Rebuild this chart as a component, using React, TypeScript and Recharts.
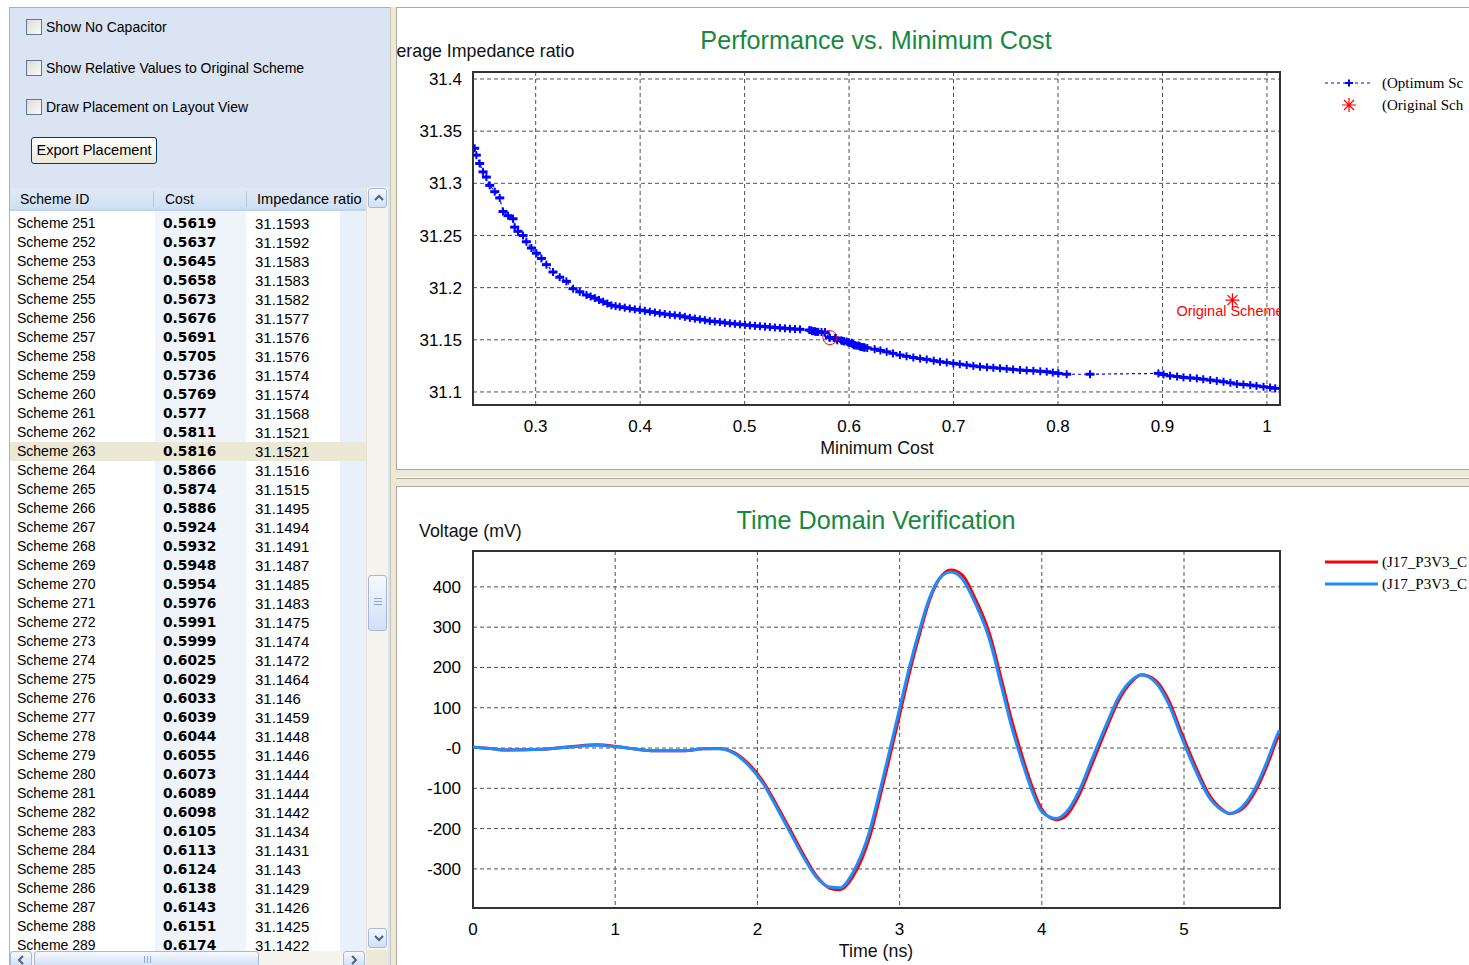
import React from "react";
import {
  ScatterChart, Scatter, LineChart, Line, XAxis, YAxis, CartesianGrid,
  ReferenceArea, ReferenceDot,
} from "recharts";

const SANS = '"Liberation Sans", Arial, sans-serif';
const SERIF = '"Liberation Serif", "Times New Roman", serif';
const GREEN = "#17893d";

// ---- scheme table (schemes 251..289) ----
const schemeNumbers = [
  251, 252, 253, 254, 255, 256, 257, 258, 259, 260, 261, 262, 263, 264, 265, 266, 267, 268, 269, 270,
  271, 272, 273, 274, 275, 276, 277, 278, 279, 280, 281, 282, 283, 284, 285, 286, 287, 288, 289,
];
const schemeCosts = [
  0.5619, 0.5637, 0.5645, 0.5658, 0.5673, 0.5676, 0.5691, 0.5705, 0.5736, 0.5769, 0.577, 0.5811, 0.5816,
  0.5866, 0.5874, 0.5886, 0.5924, 0.5932, 0.5948, 0.5954, 0.5976, 0.5991, 0.5999, 0.6025, 0.6029, 0.6033,
  0.6039, 0.6044, 0.6055, 0.6073, 0.6089, 0.6098, 0.6105, 0.6113, 0.6124, 0.6138, 0.6143, 0.6151, 0.6174,
];
const schemeRatios = [
  31.1593, 31.1592, 31.1583, 31.1583, 31.1582, 31.1577, 31.1576, 31.1576, 31.1574, 31.1574, 31.1568, 31.1521,
  31.1521, 31.1516, 31.1515, 31.1495, 31.1494, 31.1491, 31.1487, 31.1485, 31.1483, 31.1475, 31.1474, 31.1472,
  31.1464, 31.146, 31.1459, 31.1448, 31.1446, 31.1444, 31.1444, 31.1442, 31.1434, 31.1431, 31.143, 31.1429,
  31.1426, 31.1425, 31.1422,
];
const selectedIndex = 12; // Scheme 263

// ---- optimum front outside the table range ----
const lowCosts = [
  0.2416, 0.2432, 0.2464, 0.2496, 0.2528, 0.256, 0.2608, 0.2656, 0.2687, 0.2735, 0.2783, 0.2799, 0.2831,
  0.2879, 0.2911, 0.2959, 0.3007, 0.3055, 0.3103, 0.3166, 0.323, 0.3294, 0.3358, 0.3422, 0.3486, 0.3526,
  0.3566, 0.3606, 0.3646, 0.3686, 0.3725, 0.3765, 0.3805, 0.3853, 0.3901, 0.3949, 0.3997, 0.4045, 0.4093,
  0.4141, 0.4188, 0.4236, 0.4284, 0.4332, 0.438, 0.4428, 0.4476, 0.4524, 0.4572, 0.462, 0.4667, 0.4715,
  0.4763, 0.4811, 0.4859, 0.4907, 0.4955, 0.5003, 0.5051, 0.5099, 0.5147, 0.5195, 0.5242, 0.529, 0.5338,
  0.5386, 0.5434, 0.5482, 0.553,
];
const lowRatios = [
  31.3336, 31.327, 31.319, 31.311, 31.306, 31.298, 31.292, 31.286, 31.273, 31.269, 31.266, 31.258, 31.254,
  31.25, 31.244, 31.238, 31.233, 31.228, 31.222, 31.215, 31.21, 31.206, 31.199, 31.196, 31.193, 31.1915,
  31.19, 31.1882, 31.1865, 31.1848, 31.183, 31.1823, 31.1817, 31.1808, 31.18, 31.1792, 31.1785, 31.1778, 31.177,
  31.1762, 31.1754, 31.1747, 31.174, 31.1735, 31.173, 31.172, 31.171, 31.1703, 31.1696, 31.1688, 31.168, 31.1675,
  31.167, 31.1663, 31.1658, 31.1653, 31.1648, 31.1643, 31.1638, 31.1634, 31.163, 31.1626, 31.1622, 31.1618,
  31.1614, 31.161, 31.1606, 31.1603, 31.16,
];
const highCosts = [
  0.6245, 0.63, 0.636, 0.642, 0.6487, 0.655, 0.6615, 0.668, 0.6743, 0.681, 0.687, 0.6935, 0.6998, 0.706,
  0.7126, 0.719, 0.7253, 0.732, 0.7381, 0.7445, 0.7509, 0.757, 0.7636, 0.77, 0.7764, 0.783, 0.7892, 0.795,
  0.8003, 0.8083, 0.8306, 0.8961, 0.901, 0.9073, 0.914, 0.9201, 0.9265, 0.9329, 0.939, 0.9457, 0.952, 0.9584,
  0.965, 0.9712, 0.9775, 0.984, 0.99, 0.9967, 1.003, 1.0079,
];
const highRatios = [
  31.141, 31.1398, 31.1385, 31.137, 31.1354, 31.1342, 31.133, 31.132, 31.1312, 31.13, 31.129, 31.1282, 31.1274,
  31.1266, 31.1258, 31.125, 31.1242, 31.1237, 31.1232, 31.1227, 31.1222, 31.1216, 31.121, 31.1206, 31.1203,
  31.1198, 31.1194, 31.1186, 31.1178, 31.117, 31.117, 31.1178, 31.1168, 31.1155, 31.1148, 31.114, 31.1135,
  31.113, 31.1122, 31.1114, 31.1106, 31.1098, 31.1088, 31.1076, 31.1071, 31.1066, 31.1058, 31.105, 31.1043,
  31.1035,
];
const originalCost = 0.967;
const originalRatio = 31.188;

const costTicks = [0.3, 0.4, 0.5, 0.6, 0.7, 0.8, 0.9, 1];
const ratioTicks = [31.1, 31.15, 31.2, 31.25, 31.3, 31.35, 31.4];

// ---- time domain waveforms ----
const timeNs = [
  0, 0.12, 0.24, 0.49, 0.7, 0.87, 1.01, 1.15, 1.27, 1.48, 1.62, 1.73, 1.83, 1.94, 2.04, 2.13, 2.22, 2.32,
  2.41, 2.51, 2.58, 2.67, 2.79, 2.86, 2.91, 3.0, 3.07, 3.14, 3.21, 3.28, 3.36, 3.44, 3.53, 3.63, 3.72, 3.79,
  3.86, 3.93, 4.0, 4.1, 4.17, 4.26, 4.35, 4.45, 4.54, 4.63, 4.7, 4.8, 4.89, 4.98, 5.08, 5.17, 5.27, 5.32,
  5.41, 5.5, 5.59, 5.65, 5.67,
];
const voltRed = [
  2, -1, -5, -3, 4, 8, 4, -3, -7, -7, -2, -1, -10, -40, -83, -138, -196, -262, -315, -348, -352, -320, -220,
  -124, -52, 82, 188, 282, 366, 420, 442, 430, 372, 286, 164, 66, -18, -94, -152, -178, -168, -118, -42, 45,
  118, 164, 182, 168, 120, 40, -45, -112, -153, -163, -151, -108, -38, 18, 34,
];
const voltBlue = [
  2, -1, -5, -3, 3, 7, 3, -3, -7, -7, -2, -2, -12, -44, -88, -144, -203, -268, -318, -345, -347, -310, -205,
  -108, -36, 98, 202, 293, 372, 421, 437, 420, 361, 272, 148, 50, -32, -105, -158, -175, -160, -108, -30, 55,
  126, 168, 181, 163, 111, 30, -55, -119, -155, -162, -146, -100, -28, 28, 44,
];
const timeTicks = [0, 1, 2, 3, 4, 5];
const voltTicks = [-300, -200, -100, 0, 100, 200, 300, 400];

const COST_DOMAIN: [number, number] = [0.24, 1.0125];
const RATIO_DOMAIN: [number, number] = [31.0875, 31.4067];
const TIME_DOMAIN: [number, number] = [0, 5.675];
const VOLT_DOMAIN: [number, number] = [-397, 489];

const optimumData = [
  ...lowCosts.map((c, i) => ({ cost: c, ratio: lowRatios[i] })),
  ...schemeCosts.map((c, i) => ({ cost: c, ratio: schemeRatios[i] })),
  ...highCosts.map((c, i) => ({ cost: c, ratio: highRatios[i] })),
];
const originalData = [{ cost: originalCost, ratio: originalRatio }];
const waveData = timeNs.map((t, i) => ({ t, red: voltRed[i], blue: voltBlue[i] }));

const tickStyle = { fill: "#000", fontSize: 17, fontFamily: SANS };

const PlusMark = (p: any) => {
  const { cx, cy } = p;
  if (cx == null || cy == null) return null;
  return (
    <g stroke="#0000ff" fill="none">
      <path d={`M${cx - 4.5},${cy}H${cx + 4.5}`} strokeWidth={3} />
      <path d={`M${cx},${cy - 4}V${cy + 4}`} strokeWidth={2} />
    </g>
  );
};

const StarMark = (p: any) => {
  const { cx, cy } = p;
  if (cx == null || cy == null) return null;
  return (
    <g>
      <path
        d={`M${cx - 7},${cy}H${cx + 7}M${cx},${cy - 7}V${cy + 7}M${cx - 5},${cy - 5}L${cx + 5},${cy + 5}M${cx - 5},${cy + 5}L${cx + 5},${cy - 5}`}
        stroke="#ff0000"
        strokeWidth={1.2}
      />
      <text x={cx - 56} y={cy + 16} fill="#ff0000" fontSize={14.5} fontFamily={SANS}>
        Original Scheme
      </text>
    </g>
  );
};

function Abs({ left, top, children, style }: any) {
  return (
    <div style={{ position: "absolute", left, top, whiteSpace: "nowrap", ...style }}>{children}</div>
  );
}

function CostChart() {
  return (
    <div style={{ position: "relative", width: 1072, height: 461 }}>
      <ScatterChart width={1072} height={461} margin={{ top: 64, right: 189, bottom: 34, left: 16 }}>
        <CartesianGrid stroke="#505050" strokeDasharray="4 3" />
        <XAxis
          type="number" dataKey="cost" domain={COST_DOMAIN} allowDataOverflow ticks={costTicks}
          axisLine={false} tickLine={false} tickMargin={9} height={30} tick={tickStyle}
        />
        <YAxis
          type="number" dataKey="ratio" domain={RATIO_DOMAIN} allowDataOverflow ticks={ratioTicks}
          axisLine={false} tickLine={false} tickMargin={5} width={60} tick={tickStyle}
        />
        <Scatter
          data={optimumData}
          shape={PlusMark}
          line={{ stroke: "#0000ff", strokeWidth: 1.2, strokeDasharray: "3 3" }}
          isAnimationActive={false}
        />
        <Scatter data={originalData} shape={StarMark} isAnimationActive={false} />
        <ReferenceDot
          x={schemeCosts[selectedIndex]} y={schemeRatios[selectedIndex]} r={7}
          fill="none" fillOpacity={0} stroke="#ff0000" strokeWidth={1}
        />
        <ReferenceArea
          x1={COST_DOMAIN[0]} x2={COST_DOMAIN[1]} y1={RATIO_DOMAIN[0]} y2={RATIO_DOMAIN[1]}
          fill="none" fillOpacity={0} stroke="#333" strokeWidth={2}
        />
      </ScatterChart>
      <Abs left={479} top={16} style={{ transform: "translateX(-50%)", fontSize: 25.2, color: GREEN, lineHeight: "32px" }}>
        Performance vs. Minimum Cost
      </Abs>
      <Abs left={-21} top={33} style={{ fontSize: 17.8, color: "#111", lineHeight: "20px" }}>
        Average Impedance ratio
      </Abs>
      <Abs left={480} top={430} style={{ transform: "translateX(-50%)", fontSize: 17.8, color: "#111", lineHeight: "20px" }}>
        Minimum Cost
      </Abs>
      <div style={{ position: "absolute", left: 920, top: 62, width: 200, height: 48 }}>
        <svg width={62} height={48} style={{ position: "absolute", left: 0, top: 0 }}>
          <line x1={8} y1={13} x2={56} y2={13} stroke="#0000ff" strokeWidth={1.2} strokeDasharray="3 3" />
          <path d="M28,13H36M32,9.5V16.5" stroke="#0000ff" strokeWidth={2} />
          <path d="M25,35H39M32,28V42M27,30L37,40M27,40L37,30" stroke="#ff0000" strokeWidth={1.2} />
        </svg>
        <Abs left={65} top={3} style={{ fontFamily: SERIF, fontSize: 15, lineHeight: "20px", color: "#000" }}>(Optimum Sc</Abs>
        <Abs left={65} top={25} style={{ fontFamily: SERIF, fontSize: 15, lineHeight: "20px", color: "#000" }}>(Original Sch</Abs>
      </div>
    </div>
  );
}

function TimeChart() {
  return (
    <div style={{ position: "relative", width: 1072, height: 478 }}>
      <LineChart width={1072} height={478} data={waveData} margin={{ top: 64, right: 189, bottom: 27, left: 16 }}>
        <CartesianGrid stroke="#505050" strokeDasharray="4 3" />
        <XAxis
          type="number" dataKey="t" domain={TIME_DOMAIN} allowDataOverflow ticks={timeTicks}
          axisLine={false} tickLine={false} tickMargin={9} height={30} tick={tickStyle}
        />
        <YAxis
          type="number" domain={VOLT_DOMAIN} allowDataOverflow ticks={voltTicks}
          axisLine={false} tickLine={false} tickMargin={6} width={60} tick={tickStyle}
          tickFormatter={(v: number) => (v === 0 ? "-0" : String(v))}
        />
        <Line dataKey="red" type="monotone" stroke="#ff0000" strokeWidth={3} dot={false} isAnimationActive={false} />
        <Line dataKey="blue" type="monotone" stroke="#1e8cff" strokeWidth={3} dot={false} isAnimationActive={false} />
        <ReferenceArea
          x1={TIME_DOMAIN[0]} x2={TIME_DOMAIN[1]} y1={VOLT_DOMAIN[0]} y2={VOLT_DOMAIN[1]}
          fill="none" fillOpacity={0} stroke="#333" strokeWidth={2}
        />
      </LineChart>
      <Abs left={479} top={17} style={{ transform: "translateX(-50%)", fontSize: 25.2, color: GREEN, lineHeight: "32px" }}>
        Time Domain Verification
      </Abs>
      <Abs left={22} top={34} style={{ fontSize: 17.8, color: "#111", lineHeight: "20px" }}>
        Voltage (mV)
      </Abs>
      <Abs left={479} top={454} style={{ transform: "translateX(-50%)", fontSize: 17.8, color: "#111", lineHeight: "20px" }}>
        Time (ns)
      </Abs>
      <div style={{ position: "absolute", left: 920, top: 62, width: 200, height: 48 }}>
        <svg width={62} height={48} style={{ position: "absolute", left: 0, top: 0 }}>
          <line x1={8} y1={13} x2={61} y2={13} stroke="#ff0000" strokeWidth={3} />
          <line x1={8} y1={35} x2={61} y2={35} stroke="#1e8cff" strokeWidth={3} />
        </svg>
        <Abs left={65} top={3} style={{ fontFamily: SERIF, fontSize: 15, lineHeight: "20px", color: "#000" }}>(J17_P3V3_C</Abs>
        <Abs left={65} top={25} style={{ fontFamily: SERIF, fontSize: 15, lineHeight: "20px", color: "#000" }}>(J17_P3V3_C</Abs>
      </div>
    </div>
  );
}

function CheckRow({ top, label }: { top: number; label: string }) {
  return (
    <div style={{ position: "absolute", left: 26, top, height: 16, display: "flex", alignItems: "center" }}>
      <div style={{ width: 14, height: 14, border: "1px solid #5b7899", background: "linear-gradient(135deg,#dcdbd3,#fbfbf9)" }} />
      <span style={{ marginLeft: 4, fontSize: 14, color: "#000", whiteSpace: "nowrap" }}>{label}</span>
    </div>
  );
}

const btnStyle: React.CSSProperties = {
  position: "absolute", boxSizing: "border-box", border: "1px solid #a6b9dc", borderRadius: 3,
  background: "linear-gradient(#f6f9ff,#d3dff6)",
};

function Chevron({ dir }: { dir: "up" | "down" | "left" | "right" }) {
  const pts = {
    up: "5,11 9,7 13,11", down: "5,7 9,11 13,7", left: "11,4 7,8 11,12", right: "7,4 11,8 7,12",
  }[dir];
  return (
    <svg width={18} height={18} style={{ position: "absolute", left: 1, top: 0 }}>
      <polyline points={pts} fill="none" stroke="#4d6185" strokeWidth={2} />
    </svg>
  );
}

function LeftPanel() {
  return (
    <div style={{ position: "absolute", left: 9, top: 7, width: 381, height: 958, background: "#dbe4f3", borderLeft: "1px solid #a5b3c7", borderTop: "1px solid #a5b3c7", boxSizing: "border-box" }}>
      <div style={{ position: "absolute", left: -10, top: -8, width: 400, height: 970 }}>
        <CheckRow top={19} label="Show No Capacitor" />
        <CheckRow top={60} label="Show Relative Values to Original Scheme" />
        <CheckRow top={99} label="Draw Placement on Layout View" />
        <div style={{ position: "absolute", left: 31, top: 137, width: 126, height: 27, boxSizing: "border-box", border: "1px solid #003c74", borderRadius: 3, background: "linear-gradient(#ffffff,#ece9d8)", fontSize: 14.6, lineHeight: "25px", textAlign: "center" }}>
          Export Placement
        </div>
        {/* header */}
        <div style={{ position: "absolute", left: 10, top: 188, width: 356, height: 23, background: "linear-gradient(#dfeaf8,#cfdff3)", borderBottom: "2px solid #c3d3e9", boxSizing: "border-box", fontSize: 14, lineHeight: "22px" }}>
          <Abs left={10} top={0}>Scheme ID</Abs>
          <div style={{ position: "absolute", left: 143, top: 3, width: 1, height: 16, background: "#b8c6da" }} />
          <Abs left={155} top={0}>Cost</Abs>
          <div style={{ position: "absolute", left: 236, top: 3, width: 1, height: 16, background: "#b8c6da" }} />
          <Abs left={247} top={0} style={{ fontSize: 14.6 }}>Impedance ratio</Abs>
        </div>
        {/* rows */}
        <div style={{ position: "absolute", left: 10, top: 211, width: 356, height: 745, background: "#fff" }}>
          <div style={{ position: "absolute", left: 145, top: 0, width: 91, height: 745, background: "#eff4fb" }} />
          <div style={{ position: "absolute", left: 330, top: 0, width: 26, height: 745, background: "#e9f0fa" }} />
          {schemeNumbers.map((n, i) => (
            <div key={n} style={{ position: "absolute", left: 0, top: 3 + i * 19, width: 356, height: 19, background: i === selectedIndex ? "#ebe8d6" : "transparent", fontSize: 14, lineHeight: "19px", color: "#000" }}>
              <Abs left={7} top={0}>{`Scheme ${n}`}</Abs>
              <Abs left={153} top={0} style={{ fontFamily: '"DejaVu Sans", sans-serif', fontWeight: 700, fontSize: 13.8 }}>{String(schemeCosts[i])}</Abs>
              <Abs left={245} top={0} style={{ fontSize: 15 }}>{String(schemeRatios[i])}</Abs>
            </div>
          ))}
        </div>
        {/* vertical scrollbar */}
        <div style={{ position: "absolute", left: 366, top: 187, width: 22, height: 763, background: "#f5f4ef", borderLeft: "1px solid #e2e0d6", boxSizing: "border-box" }} />
        <div style={{ ...btnStyle, left: 368, top: 188, width: 19, height: 20 }}><Chevron dir="up" /></div>
        <div style={{ ...btnStyle, left: 368, top: 575, width: 19, height: 56 }}>
          <div style={{ position: "absolute", left: 5, top: 22, width: 8, height: 1, background: "#8da6d4" }} />
          <div style={{ position: "absolute", left: 5, top: 25, width: 8, height: 1, background: "#8da6d4" }} />
          <div style={{ position: "absolute", left: 5, top: 28, width: 8, height: 1, background: "#8da6d4" }} />
        </div>
        <div style={{ ...btnStyle, left: 368, top: 928, width: 19, height: 20 }}><Chevron dir="down" /></div>
        {/* horizontal scrollbar */}
        <div style={{ position: "absolute", left: 10, top: 951, width: 356, height: 14, background: "#f5f4ef" }} />
        <div style={{ ...btnStyle, left: 10, top: 951, width: 22, height: 16 }}><Chevron dir="left" /></div>
        <div style={{ ...btnStyle, left: 34, top: 951, width: 225, height: 16 }}>
          <div style={{ position: "absolute", left: 109, top: 4, width: 1, height: 7, background: "#8da6d4" }} />
          <div style={{ position: "absolute", left: 112, top: 4, width: 1, height: 7, background: "#8da6d4" }} />
          <div style={{ position: "absolute", left: 115, top: 4, width: 1, height: 7, background: "#8da6d4" }} />
        </div>
        <div style={{ ...btnStyle, left: 343, top: 951, width: 22, height: 16 }}><Chevron dir="right" /></div>
        <div style={{ position: "absolute", left: 366, top: 950, width: 22, height: 15, background: "#ece9d8" }} />
      </div>
    </div>
  );
}

export default function App() {
  return (
    <div style={{ position: "absolute", left: 0, top: 0, width: 1469, height: 965, overflow: "hidden", background: "#ffffff", fontFamily: SANS }}>
      <LeftPanel />
      <div style={{ position: "absolute", left: 390, top: 7, width: 6, height: 958, background: "#ece9d8", borderLeft: "1px solid #c9c6b6", boxSizing: "border-box" }} />
      <div style={{ position: "absolute", left: 396, top: 470, width: 1073, height: 16, background: "#ece9d8" }}>
        <div style={{ position: "absolute", left: 0, right: 0, top: 7, height: 1, background: "#ffffff" }} />
        <div style={{ position: "absolute", left: 0, right: 0, top: 8, height: 1, background: "#aca899" }} />
      </div>
      <div style={{ position: "absolute", left: 396, top: 7, width: 1073, height: 463, borderLeft: "1px solid #aca899", borderTop: "1px solid #aca899", borderBottom: "1px solid #aca899", boxSizing: "border-box", overflow: "hidden", background: "#fff" }}>
        <CostChart />
      </div>
      <div style={{ position: "absolute", left: 396, top: 486, width: 1073, height: 479, borderLeft: "1px solid #aca899", borderTop: "1px solid #aca899", boxSizing: "border-box", overflow: "hidden", background: "#fff" }}>
        <TimeChart />
      </div>
    </div>
  );
}
